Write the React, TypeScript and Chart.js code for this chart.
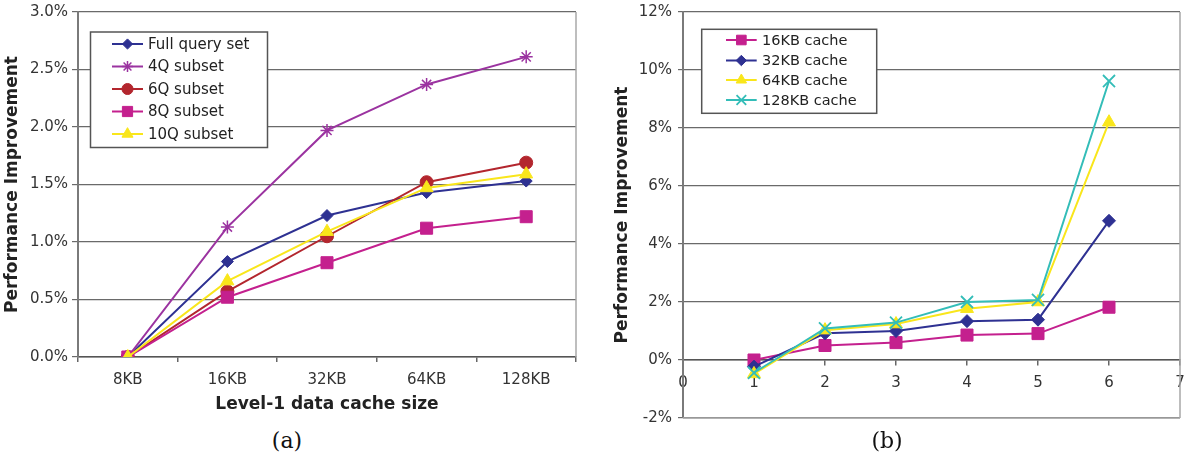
import React, { useEffect, useRef } from 'react';
import { Chart, registerables } from 'chart.js';
import { drawPoint } from 'chart.js/helpers';

Chart.register(...registerables);
Chart.defaults.font.family = '"DejaVu Sans", Verdana, sans-serif';

// ---- Chart (a) data ----
const cacheSizes = ['8KB', '16KB', '32KB', '64KB', '128KB'];
const fullQuerySet = [0, 0.83, 1.23, 1.43, 1.53];
const subset4Q = [0, 1.13, 1.97, 2.37, 2.61];
const subset6Q = [0, 0.57, 1.05, 1.52, 1.69];
const subset8Q = [0, 0.52, 0.82, 1.12, 1.22];
const subset10Q = [0, 0.66, 1.09, 1.47, 1.59];

// ---- Chart (b) data ----
const xPositions = [1, 2, 3, 4, 5, 6];
const cache16KB = [0.0, 0.5, 0.6, 0.86, 0.91, 1.82];
const cache32KB = [-0.23, 0.92, 1.0, 1.34, 1.39, 4.8];
const cache64KB = [-0.48, 1.03, 1.24, 1.77, 2.0, 8.2];
const cache128KB = [-0.44, 1.09, 1.29, 2.0, 2.07, 9.62];

const NAVY = '#2E3192';
const PURPLE = '#9B33A0';
const RED = '#B3262E';
const MAGENTA = '#C4208E';
const YELLOW = '#F9E61B';
const CYAN = '#33BDB8';

const boxLegend = {
  id: 'boxLegend',
  afterDraw(chart: any, _args: any, opts: any) {
    const ctx = chart.ctx;
    ctx.save();
    ctx.fillStyle = '#ffffff';
    ctx.fillRect(opts.x, opts.y, opts.w, opts.h);
    ctx.strokeStyle = '#555555';
    ctx.lineWidth = 1.5;
    ctx.strokeRect(opts.x, opts.y, opts.w, opts.h);
    chart.data.datasets.forEach((ds: any, i: number) => {
      const y = opts.rows[i];
      ctx.strokeStyle = ds.borderColor;
      ctx.lineWidth = 2;
      ctx.beginPath();
      ctx.moveTo(opts.lineX1, y);
      ctx.lineTo(opts.lineX2, y);
      ctx.stroke();
      ctx.fillStyle = ds.pointBackgroundColor || ds.backgroundColor;
      ctx.strokeStyle = ds.borderColor;
      ctx.lineWidth = ds.pointBorderWidth;
      drawPoint(ctx, {
        pointStyle: ds.pointStyle,
        radius: ds.pointRadius * opts.scale,
        rotation: 0,
        borderWidth: ds.pointBorderWidth,
      } as any, (opts.lineX1 + opts.lineX2) / 2, y);
      ctx.fillStyle = '#222222';
      ctx.font = `${opts.fontSize}px "DejaVu Sans", Verdana, sans-serif`;
      ctx.textBaseline = 'middle';
      ctx.textAlign = 'left';
      ctx.fillText(ds.label, opts.textX, y + 1);
    });
    ctx.restore();
  },
};

const frame = {
  id: 'frame',
  beforeDatasetsDraw(chart: any, _args: any, opts: any) {
    const { left, right, top, bottom } = chart.chartArea;
    const ctx = chart.ctx;
    ctx.save();
    ctx.strokeStyle = '#a8a8a8';
    ctx.lineWidth = 1.5;
    ctx.beginPath();
    ctx.moveTo(right, top);
    ctx.lineTo(right, bottom);
    if (opts.bottom) {
      ctx.moveTo(left, bottom);
      ctx.lineTo(right, bottom);
    }
    ctx.stroke();
    ctx.restore();
  },
};

function ds(label: string, data: any[], color: string, style: string, radius: number, bw: number, order: number) {
  return {
    label,
    data,
    borderColor: color,
    backgroundColor: color,
    pointBackgroundColor: color,
    pointBorderColor: color,
    borderWidth: 2,
    pointStyle: style,
    pointRadius: radius,
    pointBorderWidth: bw,
    order,
  };
}

const tickFont = { size: 15 };
const titleFont = { size: 17, weight: 'bold' as const };

function zeroPad(s: any) {
  s.paddingTop = 0;
  s.paddingBottom = 0;
  s.paddingLeft = 0;
  s.paddingRight = 0;
}

function leftConfig(): any {
  return {
    type: 'line',
    data: {
      labels: cacheSizes,
      datasets: [
        ds('Full query set', fullQuerySet, NAVY, 'rectRot', 6, 1, 4),
        ds('4Q subset', subset4Q, PURPLE, 'star', 6.5, 1.5, 3),
        ds('6Q subset', subset6Q, RED, 'circle', 6.5, 1, 2),
        ds('8Q subset', subset8Q, MAGENTA, 'rect', 8.5, 1, 1),
        ds('10Q subset', subset10Q, YELLOW, 'triangle', 7.5, 1, 0),
      ],
    },
    options: {
      animation: false,
      responsive: false,
      layout: { autoPadding: false, padding: { top: 12, right: 14, bottom: 0, left: 0 } },
      plugins: {
        legend: { display: false },
        tooltip: { enabled: false },
        boxLegend: {
          x: 90.5, y: 32, w: 177, h: 115.5,
          rows: [44, 66.5, 89, 111.5, 134],
          lineX1: 112, lineX2: 143, textX: 148, fontSize: 15, scale: 0.85,
        },
        frame: { bottom: false },
      },
      scales: {
        x: {
          type: 'category',
          offset: true,
          grid: { offset: true, drawOnChartArea: false, drawTicks: true, tickLength: 5, color: '#666666', lineWidth: 1.5 },
          border: { display: true, color: '#555555', width: 1.5 },
          ticks: { padding: 9, color: '#333333', font: tickFont, autoSkip: false, maxRotation: 0 },
          title: { display: true, text: 'Level-1 data cache size', font: titleFont, color: '#222222', padding: { top: 0, bottom: 5 } },
          afterFit: (s: any) => { s.height = 63; zeroPad(s); },
        },
        y: {
          min: 0,
          max: 3,
          ticks: { stepSize: 0.5, callback: (v: number) => v.toFixed(1) + '%', padding: 4, color: '#333333', font: tickFont },
          grid: { color: '#6a6a6a', lineWidth: 1.2, tickLength: 6 },
          border: { color: '#7a7a7a', width: 2 },
          title: { display: true, text: 'Performance Improvement', font: titleFont, color: '#222222', padding: { top: 2, bottom: 0 } },
          afterFit: (s: any) => { s.width = 78; zeroPad(s); },
        },
      },
    },
    plugins: [frame, boxLegend],
  };
}

function pts(ys: number[]) {
  return ys.map((y, i) => ({ x: xPositions[i], y }));
}

function rightConfig(): any {
  return {
    type: 'line',
    data: {
      datasets: [
        ds('16KB cache', pts(cache16KB), MAGENTA, 'rect', 8.5, 1, 3),
        ds('32KB cache', pts(cache32KB), NAVY, 'rectRot', 6.5, 1, 2),
        ds('64KB cache', pts(cache64KB), YELLOW, 'triangle', 7.5, 1, 1),
        ds('128KB cache', pts(cache128KB), CYAN, 'crossRot', 8.5, 1.8, 0),
      ],
    },
    options: {
      animation: false,
      responsive: false,
      layout: { autoPadding: false, padding: { top: 12, right: 6, bottom: 12, left: 0 } },
      plugins: {
        legend: { display: false },
        tooltip: { enabled: false },
        boxLegend: {
          x: 101.7, y: 29.3, w: 175, h: 84,
          rows: [40, 60.5, 80, 100],
          lineX1: 126, lineX2: 156.7, textX: 162, fontSize: 14.5, scale: 0.8,
        },
        frame: { bottom: true },
      },
      scales: {
        x: {
          type: 'linear',
          min: 0,
          max: 7,
          position: { y: 0 },
          grid: { drawOnChartArea: false, drawTicks: true, tickLength: 5, color: '#666666', lineWidth: 1.5 },
          border: { display: true, color: '#555555', width: 1.5 },
          ticks: { stepSize: 1, padding: 9, color: '#333333', font: tickFont, autoSkip: false, maxRotation: 0 },
          afterFit: (s: any) => { zeroPad(s); },
        },
        y: {
          min: -2,
          max: 12,
          ticks: { stepSize: 2, callback: (v: number) => v + '%', padding: 6, color: '#333333', font: tickFont },
          grid: { color: '#6a6a6a', lineWidth: 1.2, tickLength: 5 },
          border: { color: '#7a7a7a', width: 2 },
          title: { display: true, text: 'Performance Improvement', font: titleFont, color: '#222222', padding: { top: 12, bottom: 0 } },
          afterFit: (s: any) => { s.width = 83; zeroPad(s); },
        },
      },
    },
    plugins: [frame, boxLegend],
  };
}

function ChartBox(props: { left: number; top: number; width: number; height: number; make: () => any }) {
  const ref = useRef<HTMLCanvasElement | null>(null);
  useEffect(() => {
    const chart = new Chart(ref.current as HTMLCanvasElement, props.make());
    return () => chart.destroy();
  }, []);
  return (
    <div style={{ position: 'absolute', left: props.left, top: props.top, width: props.width, height: props.height }}>
      <canvas ref={ref} width={props.width} height={props.height} style={{ width: props.width, height: props.height, display: 'block' }} />
    </div>
  );
}

const captionStyle: React.CSSProperties = {
  position: 'absolute',
  width: 80,
  textAlign: 'center',
  fontFamily: '"DejaVu Serif", "Liberation Serif", serif',
  fontSize: 22,
  lineHeight: '26px',
  color: '#111',
};

export default function App() {
  return (
    <div style={{ position: 'absolute', left: 0, top: 0, width: 1186, height: 461, background: '#ffffff', overflow: 'hidden' }}>
      <ChartBox left={0} top={0} width={590} height={420} make={leftConfig} />
      <ChartBox left={600} top={0} width={586} height={430} make={rightConfig} />
      <div style={{ ...captionStyle, left: 247, top: 428 }}>(a)</div>
      <div style={{ ...captionStyle, left: 847, top: 428 }}>(b)</div>
    </div>
  );
}
